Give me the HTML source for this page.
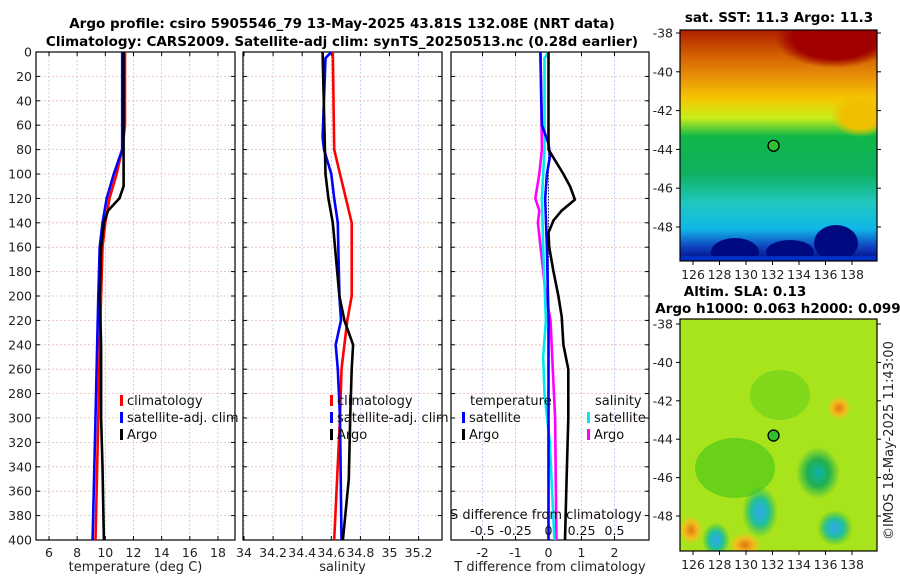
<!DOCTYPE html>
<html><head><meta charset="utf-8"><style>
body{margin:0;background:#fff;}
svg{display:block;font-family:"DejaVu Sans","Liberation Sans",sans-serif;}
</style></head><body>
<svg id="fig" width="900" height="580" viewBox="0 0 900 580" xmlns="http://www.w3.org/2000/svg">
<defs>
<linearGradient id="sstg" x1="0" y1="0" x2="0" y2="1">
<stop offset="0" stop-color="#b02000"/><stop offset="0.1" stop-color="#d05a00"/>
<stop offset="0.2" stop-color="#e8900a"/><stop offset="0.3" stop-color="#f5c800"/>
<stop offset="0.38" stop-color="#c8ee1a"/><stop offset="0.46" stop-color="#10b848"/>
<stop offset="0.62" stop-color="#10b060"/><stop offset="0.75" stop-color="#20c8c0"/>
<stop offset="0.86" stop-color="#10b8e8"/><stop offset="0.94" stop-color="#1040c0"/>
<stop offset="1" stop-color="#000a80"/></linearGradient>
<radialGradient id="red1"><stop offset="0" stop-color="#a00000"/><stop offset="0.7" stop-color="#a00000"/><stop offset="1" stop-color="#a00000" stop-opacity="0"/></radialGradient>
<radialGradient id="yel1"><stop offset="0" stop-color="#f0c000"/><stop offset="0.6" stop-color="#f0c000"/><stop offset="1" stop-color="#f0c000" stop-opacity="0"/></radialGradient>
<radialGradient id="bg1"><stop offset="0" stop-color="#10b0b0"/><stop offset="0.5" stop-color="#20b050"/><stop offset="1" stop-color="#20b050" stop-opacity="0"/></radialGradient>
<radialGradient id="og1"><stop offset="0" stop-color="#e07810"/><stop offset="0.6" stop-color="#f0c020"/><stop offset="1" stop-color="#f0c020" stop-opacity="0"/></radialGradient>
<radialGradient id="cy1"><stop offset="0" stop-color="#30a8f0"/><stop offset="0.5" stop-color="#20c0a0"/><stop offset="1" stop-color="#30b840" stop-opacity="0"/></radialGradient>
</defs>
<g id="titles" font-weight="bold" font-size="13.5" text-anchor="middle" fill="#000">
<text x="342" y="28">Argo profile: csiro 5905546_79 13-May-2025 43.81S 132.08E (NRT data)</text>
<text x="342" y="46">Climatology: CARS2009. Satellite-adj clim: synTS_20250513.nc (0.28d earlier)</text>
<text x="779" y="22">sat. SST: 11.3 Argo: 11.3</text>
<text x="745" y="296">Altim. SLA: 0.13</text>
<text x="778" y="313">Argo h1000: 0.063 h2000: 0.099</text>
</g>
<text x="893" y="540" font-size="13" fill="#222" transform="rotate(-90 893 540)">©IMOS 18-May-2025 11:43:00</text>
<g id="panels"></g>
<g id="maps"></g>
</svg>
<script>
const NS="http://www.w3.org/2000/svg";
const depthTicks=[0,20,40,60,80,100,120,140,160,180,200,220,240,260,280,300,320,340,360,380,400];
// temperature panel
const tempTicks=[6,8,10,12,14,16,18];
const tClimD=[0,60,80,100,120,140,160,200,240,300,400];
const tClimV=[11.4,11.4,11.2,10.8,10.3,10.0,9.8,9.7,9.6,9.5,9.3];
const tSatD=[0,80,100,120,140,160,200,300,400];
const tSatV=[11.2,11.2,10.6,10.1,9.8,9.6,9.5,9.3,9.1];
const tArgoD=[0,110,120,130,140,160,200,240,300,340,400];
const tArgoV=[11.3,11.3,11.0,10.2,9.9,9.7,9.6,9.7,9.7,9.8,9.9];
// salinity panel
const salTicks=[34,34.2,34.4,34.6,34.8,35,35.2];
const sClimD=[0,80,100,120,140,200,220,240,260,300,400];
const sClimV=[34.61,34.62,34.66,34.70,34.74,34.74,34.71,34.69,34.67,34.66,34.62];
const sSatD=[0,5,70,80,100,120,140,200,220,240,260,300,400];
const sSatV=[34.60,34.56,34.54,34.55,34.60,34.62,34.645,34.656,34.667,34.63,34.645,34.66,34.67];
const sArgoD=[0,100,120,140,200,220,240,260,300,350,400];
const sArgoV=[34.54,34.56,34.58,34.61,34.656,34.69,34.75,34.74,34.73,34.72,34.68];
// difference panel
const tdTicks=[-2,-1,0,1,2];
const sdTicks=[-0.5,-0.25,0,0.25,0.5];
const sdTickLabels=["-0.5","-0.25","0","0.25","0.5"];
const tdArgoD=[0,80,100,110,121,130,138,148,160,180,200,217,240,260,300,350,400];
const tdArgoV=[0,0,0.45,0.65,0.8,0.4,0.15,0,0.02,0.15,0.3,0.4,0.45,0.6,0.6,0.55,0.5];
const tdSatD=[0,60,75,85,100,120,160,220,300,400];
const tdSatV=[-0.25,-0.2,0,0.05,-0.05,-0.1,-0.05,0,0,0];
const sdArgoD=[0,80,100,120,130,140,160,200,220,300,400];
const sdArgoV=[-0.06,-0.05,-0.07,-0.1,-0.07,-0.08,-0.06,-0.02,0.015,0.05,0.06];
const sdSatD=[0,5,80,120,160,220,250,280,320,400];
const sdSatV=[0,-0.03,-0.03,-0.05,-0.04,-0.02,-0.04,-0.03,0.01,0.045];
// map axes
const lonTicks=[126,128,130,132,134,136,138];
const latTicks=[-38,-40,-42,-44,-46,-48];
const argoLon=[132.08];
const argoLat=[-43.81];

const Y0=52,Y1=540;
const yD=d=>Y0+(d/400)*(Y1-Y0);
function el(tag,attrs,parent){const e=document.createElementNS(NS,tag);for(const k in attrs)e.setAttribute(k,attrs[k]);parent.appendChild(e);return e;}
const panels=document.getElementById('panels');

function panel(name,x0,x1,xs,ticks,labels,xlabel,showY){
 const g=el('g',{},panels);
 
 
 ticks.forEach(t=>{const x=xs(t);const l=el('line',{x1:x,x2:x,y1:Y0,y2:Y1,stroke:'#b8c4f0','stroke-width':0.8,'stroke-dasharray':'2,2'},g);
  
  el('line',{x1:x,x2:x,y1:Y1,y2:Y1-4,stroke:'#000'},g);el('line',{x1:x,x2:x,y1:Y0,y2:Y0+4,stroke:'#000'},g);
  if(labels){const tx=el('text',{x:x,y:Y1+17,'font-size':12.5,'text-anchor':'middle',fill:'#222'},g);tx.textContent=labels(t);
  }
 });
 depthTicks.forEach(d=>{const y=yD(d);const l=el('line',{x1:x0,x2:x1,y1:y,y2:y,stroke:'#e8b8b0','stroke-width':0.8,'stroke-dasharray':'2,2'},g);
  
  el('line',{x1:x0,x2:x0+4,y1:y,y2:y,stroke:'#000'},g);el('line',{x1:x1,x2:x1-4,y1:y,y2:y,stroke:'#000'},g);
  if(showY){const tx=el('text',{x:x0-4,y:y+4.5,'font-size':12.5,'text-anchor':'end',fill:'#222'},g);tx.textContent=d;
  }
 });
 const r=el('rect',{x:x0,y:Y0,width:x1-x0,height:Y1-Y0,fill:'none',stroke:'#000','stroke-width':1.2},g);
 
 if(xlabel){const tx=el('text',{x:(x0+x1)/2,y:571,'font-size':13,'text-anchor':'middle',fill:'#222'},g);tx.textContent=xlabel;
 }
 return g;
}
function series(g,name,D,V,xs,color,w){
 const p=D.map((d,i)=>xs(V[i]).toFixed(1)+','+yD(d).toFixed(1)).join(' ');
 const pl=el('polyline',{points:p,fill:'none',stroke:color,'stroke-width':w||2.6,'stroke-linejoin':'round'},g);
 
 
}
function legend(g,name,x,y,color,label){
 const lg=el('g',{},g);
 
 
 el('rect',{x:x,y:y-10,width:3,height:11,fill:color},lg);
 const t=el('text',{x:x+7,y:y,'font-size':13,fill:'#111'},lg);t.textContent=label;
}
// panel 1
const xT=v=>49+(v-6)*14.08;
const g1=panel('temperature-panel',36,235,xT,tempTicks,t=>t,'temperature (deg C)',true);
series(g1,'temperature-climatology-line',tClimD,tClimV,xT,'#ff0000');
series(g1,'temperature-satellite-adj-line',tSatD,tSatV,xT,'#0000ff');
series(g1,'temperature-argo-line',tArgoD,tArgoV,xT,'#000000');
legend(g1,'legend-climatology',120,405,'#ff0000','climatology');
legend(g1,'legend-satellite-adj-clim',120,422,'#0000ff','satellite-adj. clim');
legend(g1,'legend-argo',120,439,'#000','Argo');
// panel 2
const xS=v=>244+(v-34)*145.5;
const g2=panel('salinity-panel',243,442,xS,salTicks,t=>t,'salinity',false);
series(g2,'salinity-climatology-line',sClimD,sClimV,xS,'#ff0000');
series(g2,'salinity-satellite-adj-line',sSatD,sSatV,xS,'#0000ff');
series(g2,'salinity-argo-line',sArgoD,sArgoV,xS,'#000');
legend(g2,'legend-climatology-2',330,405,'#ff0000','climatology');
legend(g2,'legend-satellite-adj-clim-2',330,422,'#0000ff','satellite-adj. clim');
legend(g2,'legend-argo-2',330,439,'#000','Argo');
// panel 3
const xTd=v=>548.5+v*33;
const xSd=v=>548.5+v*132;
const g3=panel('difference-panel',451,649,xTd,tdTicks,t=>t,'T difference from climatology',false);
const z=el('line',{x1:xTd(0),x2:xTd(0),y1:Y0,y2:Y1,stroke:'#000','stroke-width':0.8,'stroke-dasharray':'1.5,1.5'},g3);

series(g3,'salinity-diff-argo-line',sdArgoD,sdArgoV,xSd,'#ff00ff');
series(g3,'salinity-diff-satellite-line',sdSatD,sdSatV,xSd,'#00e8f0');
series(g3,'temp-diff-satellite-line',tdSatD,tdSatV,xTd,'#0000ff');
series(g3,'temp-diff-argo-line',tdArgoD,tdArgoV,xTd,'#000');
const st=el('text',{x:450,y:519,'font-size':13,fill:'#111'},g3);st.textContent='S difference from climatology';

sdTicks.forEach((t,i)=>{const tx=el('text',{x:xSd(t),y:535,'font-size':12.5,'text-anchor':'middle',fill:'#111'},g3);tx.textContent=sdTickLabels[i];
});
const lt=el('text',{x:470,y:405,'font-size':13,fill:'#111'},g3);lt.textContent='temperature';

const ls=el('text',{x:595,y:405,'font-size':13,fill:'#111'},g3);ls.textContent='salinity';

legend(g3,'legend-temp-satellite',462,422,'#0000ff','satellite');
legend(g3,'legend-temp-argo',462,439,'#000','Argo');
legend(g3,'legend-sal-satellite',587,422,'#00e8f0','satellite');
legend(g3,'legend-sal-argo',587,439,'#ff00ff','Argo');

// maps
const maps=document.getElementById('maps');
const mx=lon=>693+(lon-126)*13.25;
function map(name,y0,y1,latY,fillFn){
 const g=el('g',{},maps);
 
 
 const cp=el('clipPath',{id:'cp'+name},g);
 el('rect',{x:680,y:y0,width:197,height:y1-y0},cp);
 const inner=el('g',{'clip-path':'url(#cp'+name+')'},g);
 fillFn(inner);
 el('rect',{x:680,y:y0,width:197,height:y1-y0,fill:'none',stroke:'#000','stroke-width':1.2},g);
 lonTicks.forEach(l=>{const x=mx(l);el('line',{x1:x,x2:x,y1:y1,y2:y1+4,stroke:'#000'},g);
  const t=el('text',{x:x,y:y1+18,'font-size':12.5,'text-anchor':'middle',fill:'#222'},g);t.textContent=l;
  });
 latTicks.forEach(l=>{const y=latY(l);el('line',{x1:676,x2:680,y1:y,y2:y,stroke:'#000'},g);el('line',{x1:877,x2:881,y1:y,y2:y,stroke:'#000'},g);
  const t=el('text',{x:673,y:y+4.5,'font-size':12.5,'text-anchor':'end',fill:'#222'},g);t.textContent=l;
  });
 const c=el('circle',{cx:mx(argoLon[0]),cy:latY(argoLat[0]),r:5.5,fill:'#30c030',stroke:'#000','stroke-width':1.3},g);
 
}
const lat1=l=>33+(-38-l)*19.4;
map('sst-map',30,261,lat1,g=>{
 el('rect',{x:680,y:30,width:197,height:231,fill:'url(#sstg)'},g);
 el('ellipse',{cx:835,cy:38,rx:60,ry:30,fill:'url(#red1)'},g);
 el('ellipse',{cx:860,cy:115,rx:30,ry:22,fill:'url(#yel1)'},g);
 el('ellipse',{cx:735,cy:252,rx:24,ry:14,fill:'#000a80'},g);
 el('ellipse',{cx:790,cy:252,rx:24,ry:12,fill:'#000a80'},g);
 el('ellipse',{cx:836,cy:243,rx:22,ry:18,fill:'#000a80'},g);
 el('rect',{x:680,y:256,width:197,height:5,fill:'#0030c0'},g);
});
const lat2=l=>324+(-38-l)*19.2;
map('sla-map',319,551,lat2,g=>{
 el('rect',{x:680,y:319,width:197,height:232,fill:'#a8e41c'},g);
 el('ellipse',{cx:735,cy:468,rx:40,ry:30,fill:'#58cc18',opacity:0.8},g);
 el('ellipse',{cx:780,cy:395,rx:30,ry:25,fill:'#68d01a',opacity:0.6},g);
 el('ellipse',{cx:818,cy:473,rx:22,ry:26,fill:'url(#bg1)'},g);
 el('ellipse',{cx:760,cy:512,rx:18,ry:26,fill:'url(#cy1)'},g);
 el('ellipse',{cx:716,cy:540,rx:14,ry:18,fill:'url(#cy1)'},g);
 el('ellipse',{cx:835,cy:528,rx:18,ry:18,fill:'url(#cy1)'},g);
 el('ellipse',{cx:745,cy:545,rx:16,ry:12,fill:'url(#og1)'},g);
 el('ellipse',{cx:839,cy:408,rx:12,ry:12,fill:'url(#og1)'},g);
 el('ellipse',{cx:691,cy:530,rx:12,ry:14,fill:'url(#og1)'},g);
});
</script>
</body></html>
